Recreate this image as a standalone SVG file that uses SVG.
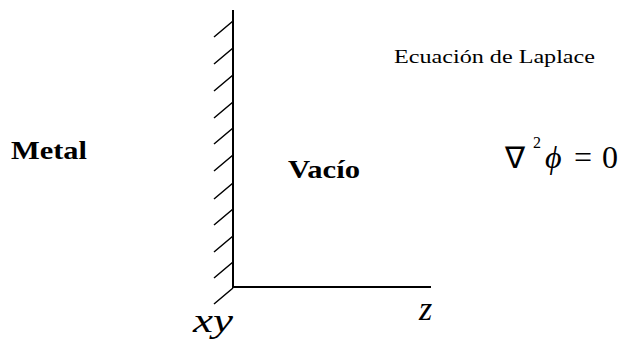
<svg xmlns="http://www.w3.org/2000/svg" width="626" height="343" viewBox="0 0 626 343">
<style>
.ln{stroke:#000;stroke-width:2;fill:none}
.ht{stroke:#000;stroke-width:1.5;fill:none}
.t{font-family:"Liberation Serif","Times New Roman",serif;fill:#000}
.b{font-weight:bold;font-size:25px}
.i{font-style:italic;font-size:34px}
.m{font-size:32px}
</style>
<rect width="626" height="343" fill="#fff"/>
<g id="wall">
<line class="ln" x1="233" y1="10" x2="233" y2="288"/>
<path class="ht" d="M233 21l-19 16M233 48l-19 16M233 75l-19 16M233 102l-19 16M233 128l-19 16M233 155l-19 16M233 183l-19 16M233 209l-19 16M233 236l-19 16M233 262l-19 16M233 288l-19 16"/>
</g>
<g id="axis">
<line class="ln" x1="233" y1="287" x2="431" y2="287"/>
</g>
<g id="labels">
<text class="t b" x="11" y="159" textLength="76" lengthAdjust="spacingAndGlyphs">Metal</text>
<text class="t b" x="288" y="178" textLength="72" lengthAdjust="spacingAndGlyphs">Vacío</text>
<text class="t" x="394" y="63" font-size="18" textLength="201" lengthAdjust="spacingAndGlyphs">Ecuación de Laplace</text>
<g id="equation">
<text class="t" x="505" y="168" font-size="30" font-family="'DejaVu Serif',serif">∇</text>
<text class="t" x="533" y="148" font-size="16">2</text>
<text class="t m" x="545" y="168" font-style="italic">ϕ</text>
<text class="t m" x="574" y="168">=</text>
<text class="t m" x="602" y="168">0</text>
</g>
<text class="t i" x="193" y="332" textLength="40" lengthAdjust="spacingAndGlyphs">xy</text>
<text class="t i" x="419" y="320">z</text>
</g>
</svg>
